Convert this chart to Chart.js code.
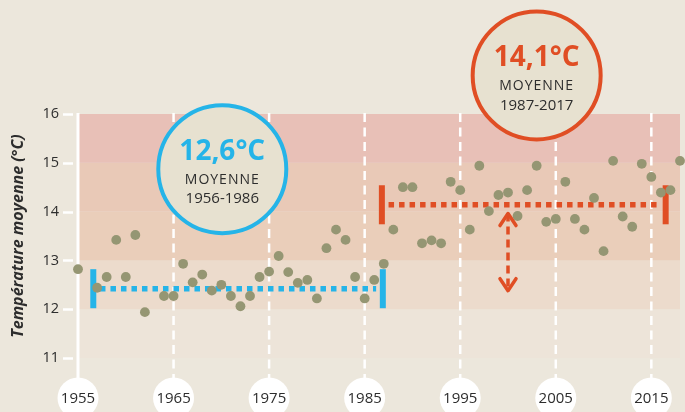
<!DOCTYPE html>
<html>
<head>
<meta charset="utf-8">
<script src="https://cdn.jsdelivr.net/npm/chart.js@4.4.1/dist/chart.umd.min.js"></script>
<style>
  html, body { margin: 0; padding: 0; background: #ece7dc; }
  canvas { display: block; }
</style>
</head>
<body>
<canvas id="chart" width="685" height="412"></canvas>
<script>
// data
const years = [1955, 1957, 1958, 1959, 1960, 1961, 1962, 1964, 1965, 1966,
  1967, 1968, 1969, 1970, 1971, 1972, 1973, 1974, 1975, 1976,
  1977, 1978, 1979, 1980, 1981, 1982, 1983, 1984, 1985, 1986,
  1987, 1988, 1989, 1990, 1991, 1992, 1993, 1994, 1995, 1996,
  1997, 1998, 1999, 2000, 2001, 2002, 2003, 2004, 2005, 2006,
  2007, 2008, 2009, 2010, 2011, 2012, 2013, 2014, 2015, 2016,
  2017, 2018];
const temps = [12.82, 12.44, 12.66, 13.42, 12.66, 13.52, 11.94, 12.27, 12.27, 12.93,
  12.55, 12.71, 12.38, 12.50, 12.27, 12.06, 12.27, 12.66, 12.77, 13.09,
  12.76, 12.54, 12.60, 12.22, 13.25, 13.63, 13.42, 12.66, 12.22, 12.60,
  12.93, 13.63, 14.50, 14.50, 13.35, 13.41, 13.35, 14.61, 14.44, 13.63,
  14.94, 14.01, 14.34, 14.39, 13.91, 14.44, 14.94, 13.79, 13.85, 14.61,
  13.85, 13.63, 14.28, 13.19, 15.04, 13.90, 13.69, 14.98, 14.71, 14.39,
  14.44, 15.04];
const xTickLabels = ['1955', '1965', '1975', '1985', '1995', '2005', '2015'];
const yTickLabels = ['11', '12', '13', '14', '15', '16'];
const meanLabels = ['12,6°C', '14,1°C'];
const meanPeriods = ['1956-1986', '1987-2017'];
const meanValues = [12.42, 14.14];
const periodStart = [1956.6, 1986.8];
const periodEnd = [1986.9, 2016.5];
const gapArrow = [13.96, 12.38];
const gapArrowYear = 2000;

const FONT = "'Open Sans', sans-serif";
const TEXT = '#2d2d2d';
const BLUE = '#25b4e8';
const ORANGE = '#e04e24';
const meanColors = [BLUE, ORANGE];
const bandColors = ['#ede4d9', '#ecdbcc', '#eaceba', '#e9c9b7', '#e8c0b7'];

const datasets = [{
  type: 'scatter',
  data: years.map((yr, i) => ({ x: yr, y: temps[i] })),
  backgroundColor: '#959673',
  borderWidth: 0,
  pointRadius: 4.9,
  clip: false,
  order: 0
}];

meanValues.forEach((m, i) => {
  // dotted mean line
  datasets.push({
    type: 'line',
    data: [{ x: periodStart[i] + 0.7, y: m }, { x: periodEnd[i] - 0.7, y: m }],
    borderColor: meanColors[i],
    borderWidth: 5.5,
    borderDash: [5.5, 5],
    pointRadius: 0,
    order: 2
  });
  // end bars
  [periodStart[i], periodEnd[i]].forEach(x => {
    datasets.push({
      type: 'line',
      data: [{ x: x, y: m - 0.4 }, { x: x, y: m + 0.4 }],
      borderColor: meanColors[i],
      borderWidth: 6,
      pointRadius: 0,
      order: 1
    });
  });
});

datasets.push({
  type: 'line',
  data: [{ x: gapArrowYear, y: gapArrow[0] }, { x: gapArrowYear, y: gapArrow[1] }],
  borderColor: ORANGE,
  borderWidth: 3.5,
  borderDash: [8, 5],
  pointRadius: 0,
  order: 1
});

const decor = {
  id: 'decor',
  beforeDraw(chart) {
    const { ctx, chartArea: a, scales: { x, y } } = chart;
    ctx.save();
    ctx.fillStyle = '#ece7dc';
    ctx.fillRect(0, 0, chart.width, chart.height);
    // temperature bands
    for (let i = 0; i < yTickLabels.length - 1; i++) {
      const y0 = y.getPixelForValue(+yTickLabels[i]);
      const y1 = y.getPixelForValue(+yTickLabels[i + 1]);
      ctx.fillStyle = bandColors[i];
      ctx.fillRect(a.left, y1, a.right - a.left, y0 - y1);
    }
    // y tick marks
    ctx.strokeStyle = '#ffffff';
    ctx.lineWidth = 2.5;
    yTickLabels.forEach(t => {
      const py = Math.round(y.getPixelForValue(+t)) + 0.5;
      ctx.beginPath();
      ctx.moveTo(a.left - 15, py);
      ctx.lineTo(a.left - 5, py);
      ctx.stroke();
    });
    // vertical year lines
    xTickLabels.forEach((t, i) => {
      const px = x.getPixelForValue(+t);
      ctx.beginPath();
      if (i === 0) {
        ctx.setLineDash([]);
        ctx.lineWidth = 3;
      } else {
        ctx.setLineDash([9, 5.5]);
        ctx.lineWidth = 2.5;
      }
      ctx.moveTo(px, a.top - 1);
      ctx.lineTo(px, a.bottom + 22);
      ctx.stroke();
    });
    ctx.restore();
  },
  afterDatasetsDraw(chart) {
    const { ctx, scales: { x, y } } = chart;
    ctx.save();
    // arrow heads
    const ax = x.getPixelForValue(gapArrowYear);
    const top = y.getPixelForValue(gapArrow[0]);
    const bot = y.getPixelForValue(gapArrow[1]);
    ctx.strokeStyle = ORANGE;
    ctx.lineWidth = 3.5;
    ctx.lineCap = 'round';
    ctx.lineJoin = 'round';
    ctx.beginPath();
    ctx.moveTo(ax - 8, top + 12); ctx.lineTo(ax, top); ctx.lineTo(ax + 8, top + 12);
    ctx.moveTo(ax - 8, bot - 12); ctx.lineTo(ax, bot); ctx.lineTo(ax + 8, bot - 12);
    ctx.stroke();

    // mean badges
    const badgeAt = [[1970.1, 14.87], [2003.0, 16.79]];
    badgeAt.forEach((b, i) => {
      const cx = x.getPixelForValue(b[0]);
      const cy = y.getPixelForValue(b[1]);
      ctx.beginPath();
      ctx.arc(cx, cy, 64, 0, Math.PI * 2);
      ctx.fillStyle = '#e7e1d0';
      ctx.fill();
      ctx.lineWidth = 4;
      ctx.strokeStyle = meanColors[i];
      ctx.stroke();
      ctx.textAlign = 'center';
      ctx.textBaseline = 'middle';
      ctx.fillStyle = meanColors[i];
      ctx.font = 'bold 28px ' + FONT;
      ctx.fillText(meanLabels[i], cx, cy - 17);
      ctx.fillStyle = TEXT;
      ctx.font = '14px ' + FONT;
      ctx.letterSpacing = '1px';
      ctx.fillText('MOYENNE', cx, cy + 11);
      ctx.letterSpacing = '0px';
      ctx.font = '15px ' + FONT;
      ctx.fillText(meanPeriods[i], cx, cy + 30);
    });

    // year labels in white discs
    const ly = chart.chartArea.bottom + 40;
    xTickLabels.forEach(t => {
      const px = x.getPixelForValue(+t);
      ctx.beginPath();
      ctx.arc(px, ly, 20.5, 0, Math.PI * 2);
      ctx.fillStyle = '#ffffff';
      ctx.fill();
      ctx.fillStyle = TEXT;
      ctx.font = '15px ' + FONT;
      ctx.textAlign = 'center';
      ctx.textBaseline = 'middle';
      ctx.fillText(t, px, ly + 1);
    });
    ctx.restore();
  }
};

new Chart(document.getElementById('chart'), {
  data: { datasets: datasets },
  options: {
    responsive: false,
    animation: false,
    layout: { padding: { top: 114, right: 5, bottom: 54, left: 0 } },
    plugins: { legend: { display: false }, tooltip: { enabled: false } },
    scales: {
      x: { type: 'linear', min: 1955, max: 2018, display: false },
      y: {
        type: 'linear', min: 11, max: 16,
        afterFit(scale) { scale.width = 78; },
        grid: { display: false, drawTicks: false },
        border: { display: false },
        ticks: {
          stepSize: 1, padding: 19, color: TEXT,
          font: { family: FONT, size: 14.5 },
          callback: v => yTickLabels[v - 11]
        },
        title: {
          display: true,
          text: 'Température moyenne (°C)',
          color: TEXT,
          font: { family: FONT, size: 16, style: 'italic', weight: 'bold' },
          padding: { top: 9, bottom: 0 }
        }
      }
    }
  },
  plugins: [decor]
});
</script>
</body>
</html>
